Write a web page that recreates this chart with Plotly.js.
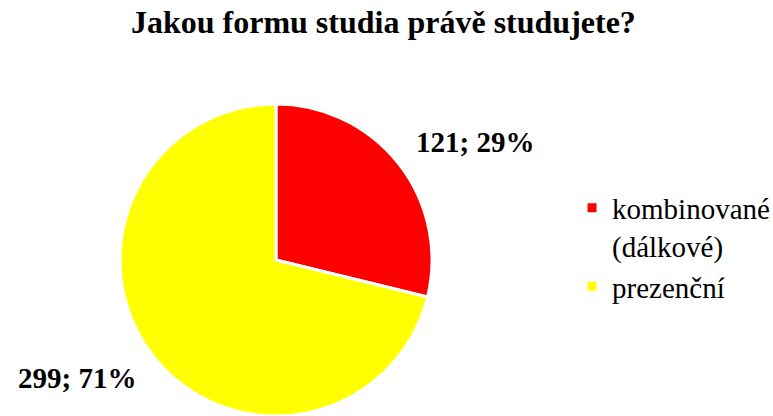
<!DOCTYPE html>
<html><head><meta charset="utf-8">
<script src="https://cdn.plot.ly/plotly-3.0.1.min.js"></script>
<style>html,body{margin:0;padding:0;background:#fff}</style>
</head><body>
<div id="chart" style="width:773px;height:416px"></div>
<script>
const categories = ["kombinované<br>(dálkové)", "prezenční"];
const counts = [121, 299];
const colors = ["#FF0000", "#FFFF00"];
const chartTitle = "Jakou formu studia právě studujete?";

const serif = "Liberation Serif, Times New Roman, serif";
const W = 773, H = 416;
const pieDomain = {x: [0.1552, 0.5589], y: [0, 0.75]};

// data labels placed around the pie, derived from the slice angles
const total = counts.reduce((a, b) => a + b, 0);
let cum = 0;
const annotations = counts.map((v, i) => {
  const mid = (cum + v / 2) / total * 2 * Math.PI; cum += v;
  const cx = (pieDomain.x[0] + pieDomain.x[1]) / 2 * W;
  const cy = (1 - (pieDomain.y[0] + pieDomain.y[1]) / 2) * H;
  const r = Math.min((pieDomain.x[1] - pieDomain.x[0]) * W, (pieDomain.y[1] - pieDomain.y[0]) * H) / 2;
  const px = cx + Math.sin(mid) * r * 1.62;
  const py = cy - Math.cos(mid) * r * 1.22;
  return {
    text: "<b>" + v + "; " + Math.round(v / total * 100) + "%</b>",
    x: px / W, y: 1 - py / H, xref: "paper", yref: "paper",
    xanchor: "center", yanchor: "middle", showarrow: false,
    font: {family: serif, size: 29, color: "#000000"}
  };
});

const data = [{
  type: "pie",
  labels: categories,
  values: counts,
  marker: {colors: colors, line: {color: "#FFFFFF", width: 3}},
  sort: false,
  direction: "clockwise",
  rotation: 0,
  textinfo: "none",
  domain: pieDomain,
  hoverinfo: "none"
}];

const layout = {
  width: W, height: H,
  margin: {l: 0, r: 0, t: 0, b: 0, autoexpand: false},
  paper_bgcolor: "#FFFFFF",
  font: {family: serif, color: "#000000"},
  title: {text: "<b>" + chartTitle + "</b>", font: {family: serif, size: 32, color: "#000000"},
          x: 0.496, xanchor: "center", y: 0.948, yanchor: "middle"},
  showlegend: true,
  legend: {x: 0.740, xanchor: "left", y: 0.405, yanchor: "middle", valign: "top",
           font: {family: serif, size: 29, color: "#000000"},
           itemwidth: 30, tracegroupgap: 0},
  annotations: annotations
};
Plotly.newPlot("chart", data, layout, {displayModeBar: false, staticPlot: true});
</script>
</body></html>
